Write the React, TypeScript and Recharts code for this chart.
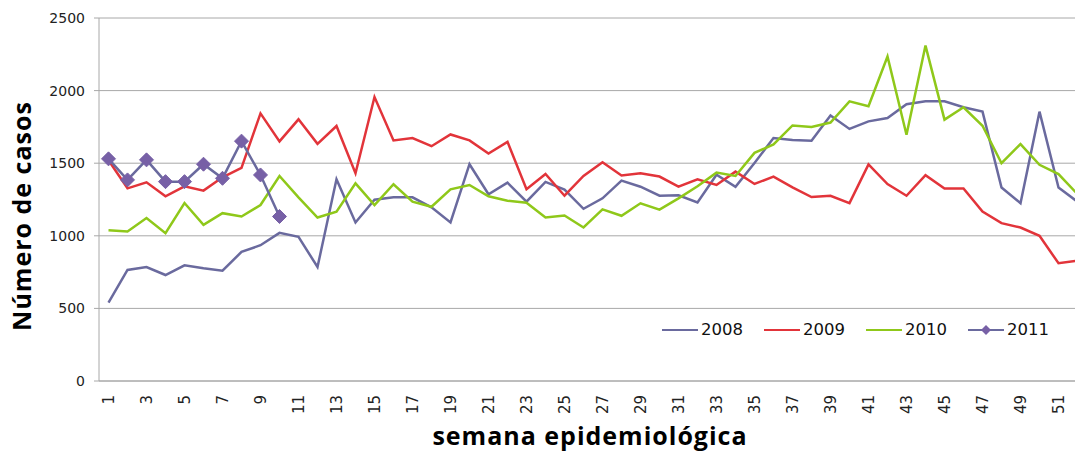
import { LineChart, Line, XAxis, YAxis, CartesianGrid, Legend } from "recharts";

const weeks = [
  1, 2, 3, 4, 5, 6, 7, 8, 9, 10, 11, 12, 13, 14, 15, 16, 17, 18, 19, 20, 21, 22, 23, 24, 25, 26,
  27, 28, 29, 30, 31, 32, 33, 34, 35, 36, 37, 38, 39, 40, 41, 42, 43, 44, 45, 46, 47, 48, 49, 50, 51, 52,
];

const cases2008 = [
  539, 765, 785, 730, 797, 776, 760, 889, 935, 1020,
  993, 785, 1389, 1092, 1249, 1265, 1265, 1196, 1092, 1493,
  1286, 1366, 1235, 1371, 1318, 1186, 1258, 1380, 1338, 1276,
  1279, 1230, 1421, 1338, 1502, 1673, 1659, 1654, 1828, 1736,
  1788, 1811, 1906, 1926, 1926, 1885, 1855, 1333, 1225, 1855,
  1333, 1234,
];
const cases2009 = [
  1520, 1327, 1368, 1272, 1341, 1311, 1403, 1468, 1843, 1650,
  1802, 1633, 1756, 1431, 1956, 1657, 1673, 1617, 1698, 1657,
  1567, 1647, 1320, 1426, 1276, 1412, 1507, 1415, 1431, 1408,
  1338, 1389, 1350, 1442, 1357, 1408, 1334, 1267, 1276, 1225,
  1492, 1356, 1276, 1418, 1326, 1326, 1167, 1087, 1057, 1000,
  811, 829,
];
const cases2010 = [
  1039, 1030, 1122, 1018, 1226, 1076, 1156, 1133, 1212, 1412,
  1265, 1126, 1166, 1361, 1212, 1355, 1235, 1200, 1320, 1350,
  1272, 1242, 1228, 1126, 1140, 1057, 1182, 1138, 1224, 1180,
  1258, 1341, 1435, 1412, 1571, 1629, 1760, 1749, 1780, 1926,
  1892, 2235, 1696, 2310, 1800, 1885, 1758, 1500, 1632, 1489,
  1425, 1287,
];
const cases2011 = [1530, 1385, 1523, 1373, 1373, 1493, 1396, 1652, 1419, 1133];

const weekTicks = [1, 3, 5, 7, 9, 11, 13, 15, 17, 19, 21, 23, 25, 27, 29, 31, 33, 35, 37, 39, 41, 43, 45, 47, 49, 51];
const yTicks = [0, 500, 1000, 1500, 2000, 2500];

const data = weeks.map((w, i) => ({
  week: w,
  y2008: cases2008[i],
  y2009: cases2009[i],
  y2010: cases2010[i],
  y2011: i < cases2011.length ? cases2011[i] : null,
}));

// tick marks sit between the weeks
const boundaries = [0.5, ...weeks.map((w) => w + 0.5)];

const C2008 = "#6a6a9e";
const C2009 = "#e2343a";
const C2010 = "#8fc81a";
const C2011 = "#7760a6";
const GRID = "#a8a8a8";
const FONT = "DejaVu Sans";

const WeekTick = (props: any) => {
  const { x, y, payload } = props;
  return (
    <g transform={`translate(${x},${y})`}>
      <text transform="rotate(-90)" x={-7} y={0} dy="0.36em" textAnchor="end" fontSize={15} fontFamily={FONT} fill="#222">
        {payload.value}
      </text>
    </g>
  );
};

const Diamond = (props: any) => {
  const { cx, cy, index } = props;
  if (cx == null || cy == null || props.value == null) return <g key={`d-${index}`} />;
  const r = 7;
  return (
    <polygon
      key={`d-${index}`}
      points={`${cx},${cy - r} ${cx + r},${cy} ${cx},${cy + r} ${cx - r},${cy}`}
      fill={C2011}
      stroke={C2011}
    />
  );
};

const renderLegend = (props: any) => {
  const items = props.payload || [];
  return (
    <div style={{ display: "flex", fontFamily: FONT, fontSize: 16.5, color: "#111" }}>
      {items.map((it: any) => (
        <div key={it.value} style={{ display: "flex", alignItems: "center", marginRight: 21 }}>
          <svg width={36} height={14} style={{ marginRight: 3 }}>
            <line x1={0} y1={7} x2={36} y2={7} stroke={it.value === "2011" ? C2008 : it.color} strokeWidth={2} />
            {it.value === "2011" && <polygon points="18,2 23,7 18,12 13,7" fill={C2011} />}
          </svg>
          <span>{it.value}</span>
        </div>
      ))}
    </div>
  );
};

export default function App() {
  return (
    <div style={{ position: "fixed", left: 0, top: 0, width: 1075, height: 452, overflow: "hidden", background: "#fff" }}>
      <LineChart width={1090} height={452} data={data} margin={{ top: 18, right: 3, left: 0, bottom: 0 }}>
        <CartesianGrid vertical={false} stroke={GRID} strokeWidth={1} />
        <XAxis
          xAxisId="bounds"
          type="number"
          domain={[0.5, 52.5]}
          ticks={boundaries}
          tick={false}
          tickLine={{ stroke: GRID }}
          tickSize={5}
          axisLine={false}
          height={0}
          allowDataOverflow
        />
        <XAxis
          xAxisId="weeks"
          dataKey="week"
          type="number"
          domain={[0.5, 52.5]}
          ticks={weekTicks}
          interval={0}
          tick={<WeekTick />}
          tickLine={false}
          tickSize={5}
          tickMargin={2}
          axisLine={{ stroke: GRID }}
          height={71}
          allowDataOverflow
          label={{
            content: () => (
              <text
                x={590}
                y={445}
                textAnchor="middle"
                fontFamily="Open Sans"
                fontWeight={700}
                fontSize={25}
                letterSpacing={1}
                fill="#000"
              >
                semana epidemiológica
              </text>
            ),
          }}
        />
        <YAxis
          domain={[0, 2500]}
          ticks={yTicks}
          width={99}
          tickSize={5}
          tickMargin={9}
          tickLine={{ stroke: GRID }}
          axisLine={{ stroke: GRID }}
          tick={{ fontSize: 14, fontFamily: FONT, fill: "#222" }}
          label={{
            content: () => (
              <text
                x={31}
                y={216}
                transform="rotate(-90, 31, 216)"
                textAnchor="middle"
                fontFamily="Open Sans"
                fontWeight={700}
                fontSize={25}
                letterSpacing={1}
                fill="#000"
              >
                Número de casos
              </text>
            ),
          }}
        />
        <Legend
          layout="vertical"
          align="center"
          verticalAlign="middle"
          content={renderLegend}
          wrapperStyle={{ left: 662, top: 320, width: 420 }}
        />
        <Line xAxisId="weeks" type="linear" dataKey="y2008" name="2008" stroke={C2008} strokeWidth={2.5} dot={false} isAnimationActive={false} />
        <Line xAxisId="weeks" type="linear" dataKey="y2009" name="2009" stroke={C2009} strokeWidth={2.5} dot={false} isAnimationActive={false} />
        <Line xAxisId="weeks" type="linear" dataKey="y2010" name="2010" stroke={C2010} strokeWidth={2.5} dot={false} isAnimationActive={false} />
        <Line
          xAxisId="weeks"
          type="linear"
          dataKey="y2011"
          name="2011"
          stroke={C2008}
          strokeWidth={2.5}
          dot={Diamond}
          activeDot={false}
          isAnimationActive={false}
        />
      </LineChart>
    </div>
  );
}
